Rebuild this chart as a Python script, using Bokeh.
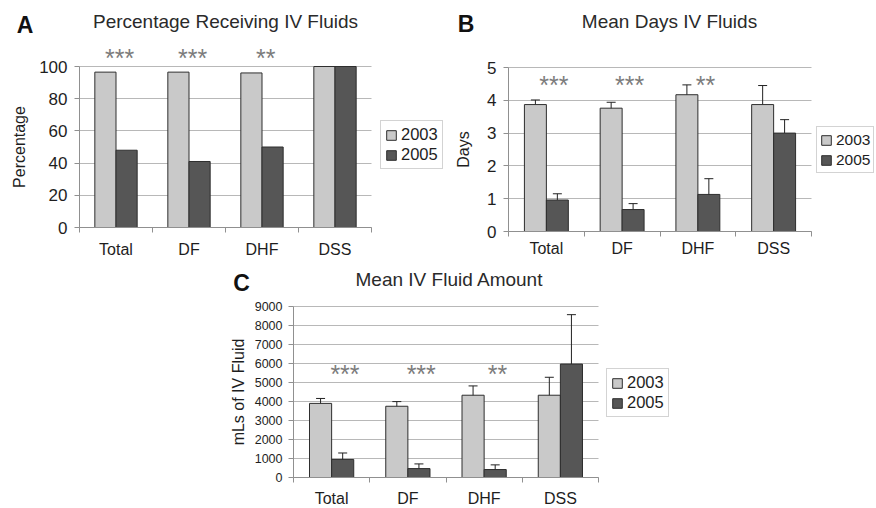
import numpy as np
from bokeh.plotting import figure
from bokeh.models import (ColumnDataSource, Range1d, FixedTicker, Legend, LegendItem,
                          Label, Whisker, TeeHead, LinearAxis, Grid)
from bokeh.embed import file_html
from bokeh.resources import INLINE

# ---------------- data ----------------
categories = ["Total", "DF", "DHF", "DSS"]
years = ["2003", "2005"]
significance = ["***", "***", "**", ""]

pct_2003 = [96.5, 96.5, 96.0, 100.0]
pct_2005 = [48.0, 41.0, 50.0, 100.0]

days_2003 = [3.87, 3.76, 4.17, 3.87]
days_2005 = [0.96, 0.67, 1.13, 3.00]
days_err_2003 = [0.14, 0.18, 0.30, 0.58]
days_err_2005 = [0.19, 0.18, 0.48, 0.41]

ml_2003 = [3900, 3750, 4330, 4330]
ml_2005 = [950, 470, 420, 5970]
ml_err_2003 = [260, 245, 490, 945]
ml_err_2005 = [340, 245, 245, 2600]

# ---------------- style ----------------
W, H = 876, 508
FONT = "Liberation Sans"
LIGHT = "#c9c9c9"
DARK = "#565656"
EDGE = "#2e2e2e"
GRID = "#b8b8b8"
AXIS = "#909090"
TEXT = "#1e1e1e"
BW = 0.29

p = figure(width=W, height=H, x_range=Range1d(0, W), y_range=Range1d(H, 0),
           x_axis_type=None, y_axis_type=None, output_backend="svg",
           toolbar_location=None, min_border=0)
p.outline_line_color = None
p.xgrid.visible = False
p.ygrid.visible = False

xranges, yranges = {}, {}


def register(name, box, ymax):
    left, right, top, bottom = box
    n = len(categories)
    sx = (right - left) / n
    sy = (bottom - top) / ymax
    xranges[name] = Range1d(-left / sx, (W - left) / sx)
    yranges[name] = Range1d((bottom - H) / sy, bottom / sy)


# pixel boxes of the three plot areas (left, right, top, bottom)
register("A", (79, 371, 66, 227), 100)
register("B", (508, 811, 67, 231), 5)
register("C", (293, 598, 306, 477), 9000)
p.extra_x_ranges = xranges
p.extra_y_ranges = yranges


def panel(name, v03, v05, e03, e05, ymax, ystep, ylabel, ylabel_standoff, tick_font,
          tick_standoff, cat_font, cat_standoff, legend_loc, legend_font, legend_pad,
          star_y, star_dx):
    rn = dict(x_range_name=name, y_range_name=name)
    idx = np.arange(len(categories))
    centers = idx + 0.5
    x03 = centers - BW / 2
    x05 = centers + BW / 2

    yticks = list(np.arange(0, ymax + ystep / 2, ystep))
    yticker = FixedTicker(ticks=yticks, minor_ticks=[])
    p.add_layout(Grid(dimension=1, ticker=yticker, grid_line_color=GRID, grid_line_width=1,
                      cross_bounds=(0, len(categories)), **rn))

    s03 = ColumnDataSource(dict(x=x03, top=v03))
    s05 = ColumnDataSource(dict(x=x05, top=v05))
    r03 = p.vbar(x="x", top="top", width=BW, source=s03, fill_color=LIGHT,
                 line_color=EDGE, line_width=1, **rn)
    r05 = p.vbar(x="x", top="top", width=BW, source=s05, fill_color=DARK,
                 line_color=EDGE, line_width=1, **rn)

    if e03 is not None:
        for xs, vals, errs in ((x03, v03, e03), (x05, v05, e05)):
            vals = np.array(vals, dtype=float)
            errs = np.array(errs, dtype=float)
            ws = ColumnDataSource(dict(base=xs, upper=vals + errs, lower=vals - errs))
            p.add_layout(Whisker(base="base", upper="upper", lower="lower", source=ws,
                                 line_color="#222222", line_width=1,
                                 upper_head=TeeHead(size=9, line_color="#222222", line_width=1),
                                 lower_head=TeeHead(size=9, line_color="#222222", line_width=1),
                                 **rn))

    xa = LinearAxis(fixed_location=0, bounds=(0, len(categories)),
                    ticker=FixedTicker(ticks=list(centers),
                                       minor_ticks=list(range(len(categories) + 1))),
                    major_label_overrides={float(c): cat for c, cat in zip(centers, categories)},
                    **rn)
    xa.major_tick_line_color = None
    xa.major_tick_out = 0
    xa.major_tick_in = 0
    xa.minor_tick_line_color = AXIS
    xa.minor_tick_out = 5
    xa.minor_tick_in = 0
    xa.axis_line_color = AXIS
    xa.major_label_text_font = FONT
    xa.major_label_text_font_size = cat_font
    xa.major_label_text_color = TEXT
    xa.major_label_standoff = cat_standoff
    p.add_layout(xa, "below")

    ya = LinearAxis(fixed_location=0, bounds=(0, ymax), ticker=yticker, **rn)
    ya.major_tick_out = 5
    ya.major_tick_in = 0
    ya.major_tick_line_color = AXIS
    ya.minor_tick_line_color = None
    ya.axis_line_color = AXIS
    ya.major_label_text_font = FONT
    ya.major_label_text_font_size = tick_font
    ya.major_label_text_color = TEXT
    ya.major_label_standoff = tick_standoff
    ya.axis_label = ylabel
    ya.axis_label_text_font = FONT
    ya.axis_label_text_font_size = "16px"
    ya.axis_label_text_font_style = "normal"
    ya.axis_label_text_color = TEXT
    ya.axis_label_standoff = ylabel_standoff
    p.add_layout(ya, "left")

    legend = Legend(items=[LegendItem(label=years[0], renderers=[r03]),
                           LegendItem(label=years[1], renderers=[r05])],
                    location=legend_loc, orientation="vertical",
                    border_line_color="#a8a8a8", border_line_width=1,
                    background_fill_color="white", background_fill_alpha=1,
                    label_text_font=FONT, label_text_font_size=legend_font,
                    label_text_color=TEXT, glyph_width=12, glyph_height=12,
                    label_height=19, label_width=30, label_standoff=4, spacing=1,
                    padding=legend_pad, margin=0)
    p.add_layout(legend)

    for i, s in enumerate(significance):
        if s:
            p.add_layout(Label(x=i + 0.5 + star_dx, y=star_y, text=s, text_font=FONT,
                               text_font_size="25px", text_color="#7c7c7c",
                               text_align="center", text_baseline="alphabetic",
                               x_range_name=name))


panel("A", pct_2003, pct_2005, None, None, 100, 20, "Percentage", 8, "17px", 7,
      "16px", 8, (380, 339), "16.5px", 4, 57.5, 0.05)
panel("B", days_2003, days_2005, days_err_2003, days_err_2005, 5, 1, "Days", 12, "17px", 7,
      "16px", 3, (816, 335), "15.5px", 3, 84.7, 0.10)
panel("C", ml_2003, ml_2005, ml_err_2003, ml_err_2005, 9000, 1000, "mLs of IV Fluid", 5,
      "12.5px", 6, "16px", 7, (606, 91), "16.5px", 4, 373, 0.175)

# titles and panel letters (pixel positions)
titles = [("Percentage Receiving IV Fluids", 225, 20.5),
          ("Mean Days IV Fluids", 669, 20.5),
          ("Mean IV Fluid Amount", 449, 279)]
letters = [("A", 24.5, 24.5), ("B", 465.5, 23), ("C", 241, 282.5)]
for text, x, y in titles:
    p.add_layout(Label(x=x, y=y, text=text, text_font=FONT, text_font_size="19px",
                       text_color="#2a2a2a", text_align="center", text_baseline="alphabetic"))
for text, x, y in letters:
    p.add_layout(Label(x=x, y=y, text=text, text_font=FONT, text_font_size="23px",
                       text_font_style="bold", text_color="#111111",
                       text_align="center", text_baseline="alphabetic"))

open("out.html", "w").write(file_html(p, INLINE))
